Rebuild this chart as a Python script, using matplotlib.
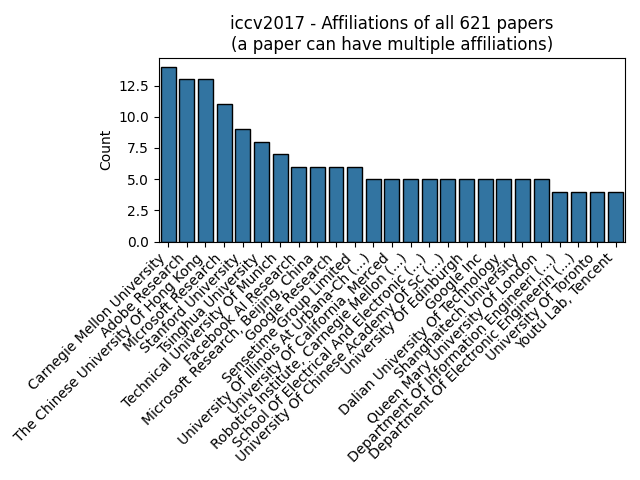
import matplotlib
matplotlib.use("Agg")
import matplotlib.pyplot as plt

affiliations = [
    "Carnegie Mellon University",
    "Adobe Research",
    "The Chinese University Of Hong Kong",
    "Microsoft Research",
    "Stanford University",
    "Tsinghua University",
    "Technical University Of Munich",
    "Facebook AI Research",
    "Microsoft Research, Beijing, China",
    "Google Research",
    "Sensetime Group Limited",
    "University Of Illinois At Urbana-Ch (...)",
    "University Of California, Merced",
    "Robotics Institute, Carnegie Mellon (...)",
    "School Of Electrical And Electronic (...)",
    "University Of Chinese Academy Of Sc (...)",
    "University Of Edinburgh",
    "Google Inc",
    "Dalian University Of Technology",
    "Shanghaitech University",
    "Queen Mary University Of London",
    "Department Of Information Engineeri (...)",
    "Department Of Electronic Engineerin (...)",
    "University Of Toronto",
    "Youtu Lab, Tencent",
]
counts = [14, 13, 13, 11, 9, 8, 7, 6, 6, 6, 6, 5, 5, 5, 5, 5, 5, 5, 5, 5, 5, 4, 4, 4, 4]

fig, ax = plt.subplots(figsize=(6.4, 4.8), dpi=100)
x = range(len(affiliations))
ax.bar(x, counts, color="#3274a1", edgecolor="black", linewidth=1)
ax.set_xticks(list(x))
ax.set_xticklabels(affiliations, rotation=45, ha="right")
ax.set_xlim(-0.5, len(affiliations) - 0.5)
ax.set_ylabel("Count")
ax.set_title("iccv2017 - Affiliations of all 621 papers\n(a paper can have multiple affiliations)")

plt.tight_layout()
plt.savefig("out.png", dpi=100)
